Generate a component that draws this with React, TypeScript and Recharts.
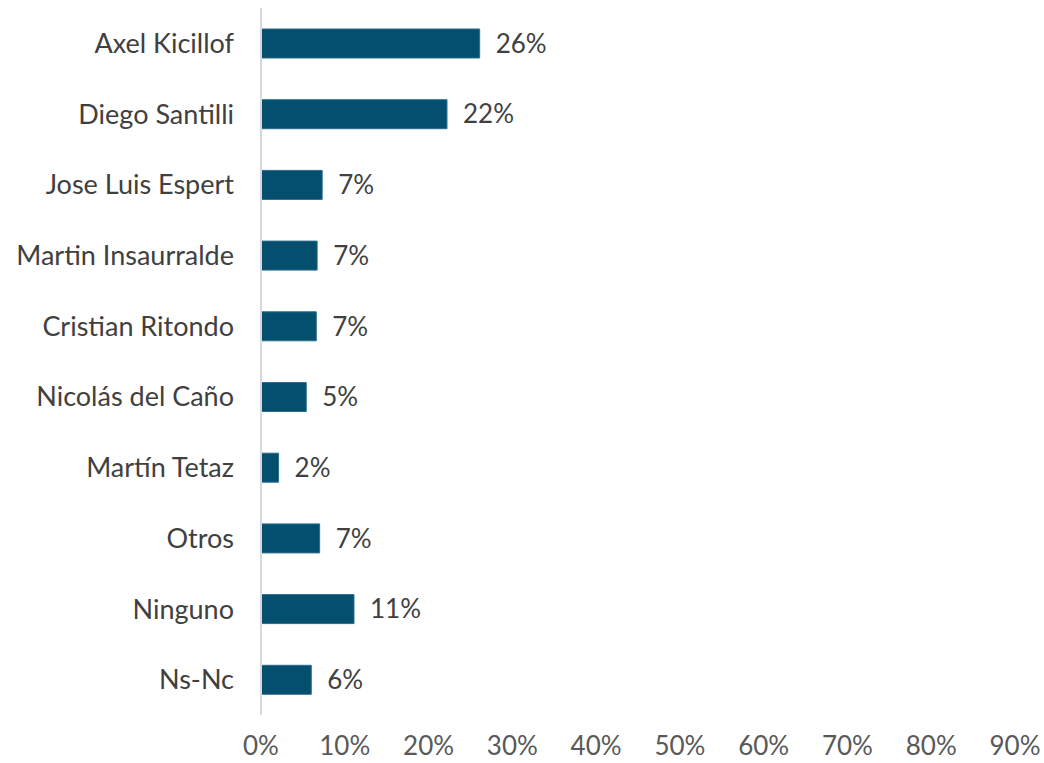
import { BarChart, Bar, XAxis, YAxis, LabelList } from "recharts";

// Candidates and vote share (fraction)
const candidates = [
  "Axel Kicillof",
  "Diego Santilli",
  "Jose Luis Espert",
  "Martin Insaurralde",
  "Cristian Ritondo",
  "Nicolás del Caño",
  "Martín Tetaz",
  "Otros",
  "Ninguno",
  "Ns-Nc",
];
const shares = [0.261, 0.222, 0.073, 0.067, 0.066, 0.054, 0.021, 0.07, 0.111, 0.06];
const xTicks = [0, 0.1, 0.2, 0.3, 0.4, 0.5, 0.6, 0.7, 0.8, 0.9];

const data = candidates.map((name, i) => ({ name, value: shares[i] }));

const FONT = "Lato, 'Open Sans', sans-serif";
const pct = (v: number) => `${Math.round(v * 100)}%`;

const App = () => {
  return (
    <div style={{ position: "fixed", top: 0, left: 0, background: "#fff" }}>
      <BarChart
        width={1044}
        height={763}
        data={data}
        layout="vertical"
        margin={{ top: 8, right: 29, bottom: 0, left: 0 }}
        style={{ fontFamily: FONT }}
      >
        <XAxis
          type="number"
          domain={[0, 0.9]}
          ticks={xTicks}
          tickFormatter={pct}
          axisLine={false}
          tickLine={false}
          tickMargin={16}
          height={48}
          interval={0}
          tick={{ fill: "#595959", fontSize: 26 }}
        />
        <YAxis
          type="category"
          dataKey="name"
          width={261}
          axisLine={{ stroke: "#d9d9d9", strokeWidth: 2 }}
          tickLine={false}
          tickMargin={21}
          interval={0}
          tick={{ fill: "#404040", fontSize: 27 }}
        />
        <Bar
          dataKey="value"
          fill="#044f6e"
          stroke="#2b6d8c"
          strokeWidth={1}
          barSize={29}
          isAnimationActive={false}
        >
          <LabelList
            dataKey="value"
            position="right"
            offset={16}
            formatter={(v: any) => pct(Number(v))}
            style={{ fill: "#404040", fontSize: 26, fontFamily: FONT }}
          />
        </Bar>
      </BarChart>
    </div>
  );
};

export default App;
